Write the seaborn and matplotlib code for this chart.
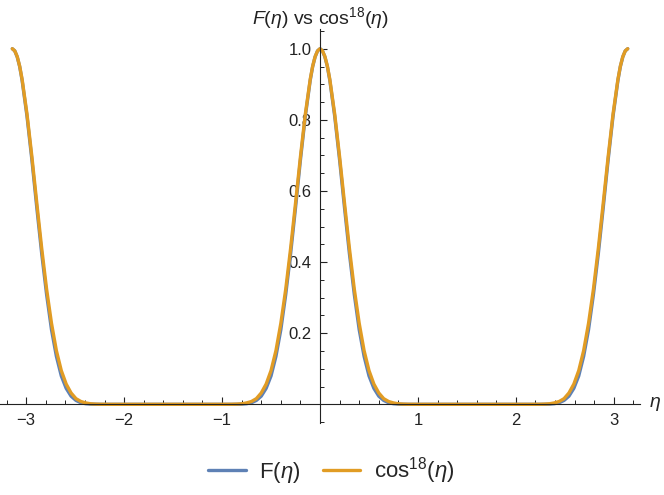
import pandas as pd
import matplotlib
matplotlib.use('Agg')
import matplotlib.pyplot as plt
from matplotlib.ticker import MultipleLocator
import seaborn as sns

# sample points (eta), dense around the three peaks
eta = [-3.1416, -3.1166, -3.0916, -3.0666, -3.0416, -2.9916, -2.9416, -2.8916, -2.8416, -2.7916,
       -2.7416, -2.6916, -2.6416, -2.5916, -2.5416, -2.4916, -2.4416, -2.3916, -2.3416, -2.2916,
       -2.2416, -2.1416,
       -1.0, -0.9, -0.85, -0.8, -0.75, -0.7, -0.65, -0.6, -0.55, -0.5,
       -0.45, -0.4, -0.35, -0.3, -0.25, -0.2, -0.15, -0.1, -0.075, -0.05, -0.025, 0.0,
       0.025, 0.05, 0.075, 0.1, 0.15, 0.2, 0.25, 0.3, 0.35, 0.4, 0.45, 0.5,
       0.55, 0.6, 0.65, 0.7, 0.75, 0.8, 0.85, 0.9, 1.0,
       2.1416, 2.2416, 2.2916, 2.3416, 2.3916, 2.4416, 2.4916, 2.5416, 2.5916, 2.6416,
       2.6916, 2.7416, 2.7916, 2.8416, 2.8916, 2.9416, 2.9916, 3.0416, 3.0666, 3.0916,
       3.1166, 3.1416]

f_eta = [1.0, 0.994, 0.977, 0.950, 0.911, 0.810, 0.687, 0.553, 0.424, 0.309,
         0.210, 0.135, 0.080, 0.045, 0.023, 0.011, 0.0045, 0.0017, 0.0006, 0.0002,
         0.0, 0.0,
         0.0, 0.0, 0.0002, 0.0006, 0.0017, 0.0045, 0.011, 0.023, 0.045, 0.080,
         0.135, 0.210, 0.309, 0.424, 0.553, 0.687, 0.810, 0.911, 0.950, 0.977, 0.994, 1.0,
         0.994, 0.977, 0.950, 0.911, 0.810, 0.687, 0.553, 0.424, 0.309, 0.210, 0.135, 0.080,
         0.045, 0.023, 0.011, 0.0045, 0.0017, 0.0006, 0.0002, 0.0, 0.0,
         0.0, 0.0, 0.0002, 0.0006, 0.0017, 0.0045, 0.011, 0.023, 0.045, 0.080,
         0.135, 0.210, 0.309, 0.424, 0.553, 0.687, 0.810, 0.911, 0.950, 0.977,
         0.994, 1.0]

cos18 = [1.0, 0.994, 0.978, 0.951, 0.914, 0.816, 0.696, 0.566, 0.439, 0.324,
         0.228, 0.151, 0.095, 0.057, 0.032, 0.016, 0.008, 0.004, 0.0015, 0.0006,
         0.0002, 0.0,
         0.0, 0.0002, 0.0006, 0.0015, 0.004, 0.008, 0.016, 0.032, 0.057, 0.095,
         0.151, 0.228, 0.324, 0.439, 0.566, 0.696, 0.816, 0.914, 0.951, 0.978, 0.994, 1.0,
         0.994, 0.978, 0.951, 0.914, 0.816, 0.696, 0.566, 0.439, 0.324, 0.228, 0.151, 0.095,
         0.057, 0.032, 0.016, 0.008, 0.004, 0.0015, 0.0006, 0.0002, 0.0,
         0.0, 0.0002, 0.0006, 0.0015, 0.004, 0.008, 0.016, 0.032, 0.057, 0.095,
         0.151, 0.228, 0.324, 0.439, 0.566, 0.696, 0.816, 0.914, 0.951, 0.978,
         0.994, 1.0]

series_names = ['F', 'cos18']
legend_labels = [r'F($\eta$)', r'cos$^{18}$($\eta$)']
x_ticks = [-3, -2, -1, 1, 2, 3]
y_ticks = [0.2, 0.4, 0.6, 0.8, 1.0]
y_tick_labels = ['0.2', '0.4', '0.6', '0.8', '1.0']
colors = ['#5E81B5', '#E19C24']

df = pd.DataFrame({
    'eta': eta + eta,
    'value': f_eta + cos18,
    'series': [series_names[0]] * len(eta) + [series_names[1]] * len(eta),
})

sns.set_style('white')
plt.rcParams['font.family'] = ['Liberation Sans', 'DejaVu Sans']
plt.rcParams['mathtext.fontset'] = 'custom'
plt.rcParams['mathtext.rm'] = 'Liberation Sans'
plt.rcParams['mathtext.it'] = 'Liberation Sans:italic'

fig = plt.figure(figsize=(6.64, 4.95), dpi=100)
ax = fig.add_axes([0.0, 0.1448, 0.9639, 0.796])

sns.lineplot(data=df, x='eta', y='value', hue='series', palette=colors,
             estimator=None, linewidth=2.4, legend=False, ax=ax)
for ln in ax.get_lines():
    ln.set_solid_joinstyle('round')
    ln.set_solid_capstyle('round')
    ln.set_zorder(1.5)

ax.set_xlim(-3.2673, 3.2673)
ax.set_ylim(-0.0534, 1.0546)

# Mathematica style axes through the origin
for s in ['top', 'right']:
    ax.spines[s].set_visible(False)
ax.spines['left'].set_position(('data', 0))
ax.spines['bottom'].set_position(('data', 0))
for s in ['left', 'bottom']:
    ax.spines[s].set_color('#222222')
    ax.spines[s].set_linewidth(0.8)

ax.set_xticks(x_ticks)
ax.set_xticklabels([str(t).replace('-', '\u2212') for t in x_ticks])
ax.set_yticks(y_ticks)
ax.set_yticklabels(y_tick_labels)
ax.xaxis.set_minor_locator(MultipleLocator(0.2))
ax.yaxis.set_minor_locator(MultipleLocator(0.05))
ax.tick_params(which='both', bottom=True, left=True, top=False, right=False,
               labelbottom=True, labelleft=True)
ax.tick_params(which='major', direction='in', length=5, width=0.8, color='#222222',
               labelsize=12, labelcolor='#222222')
ax.tick_params(which='minor', direction='in', length=2.8, width=0.7, color='#222222')
ax.tick_params(axis='x', pad=6)
ax.tick_params(axis='y', pad=6)
ax.set_xlabel('')
ax.set_ylabel('')

# axis labels
fig.text(655 / 664, 1 - 404 / 495, r'$\eta$', fontsize=14, ha='center', va='center')
fig.text(320 / 664, 1 - 18 / 495, r'$F(\eta)$ vs cos$^{18}$($\eta$)', fontsize=14,
         ha='center', va='center', color='#222222')

ax.legend(ax.get_lines()[:2], legend_labels, loc='center', ncol=2,
          bbox_to_anchor=(0.4985, 0.0485), bbox_transform=fig.transFigure,
          frameon=False, fontsize=16, handlelength=1.7, handletextpad=0.6,
          columnspacing=1.0)

plt.savefig('out.png', dpi=100)
plt.close()
